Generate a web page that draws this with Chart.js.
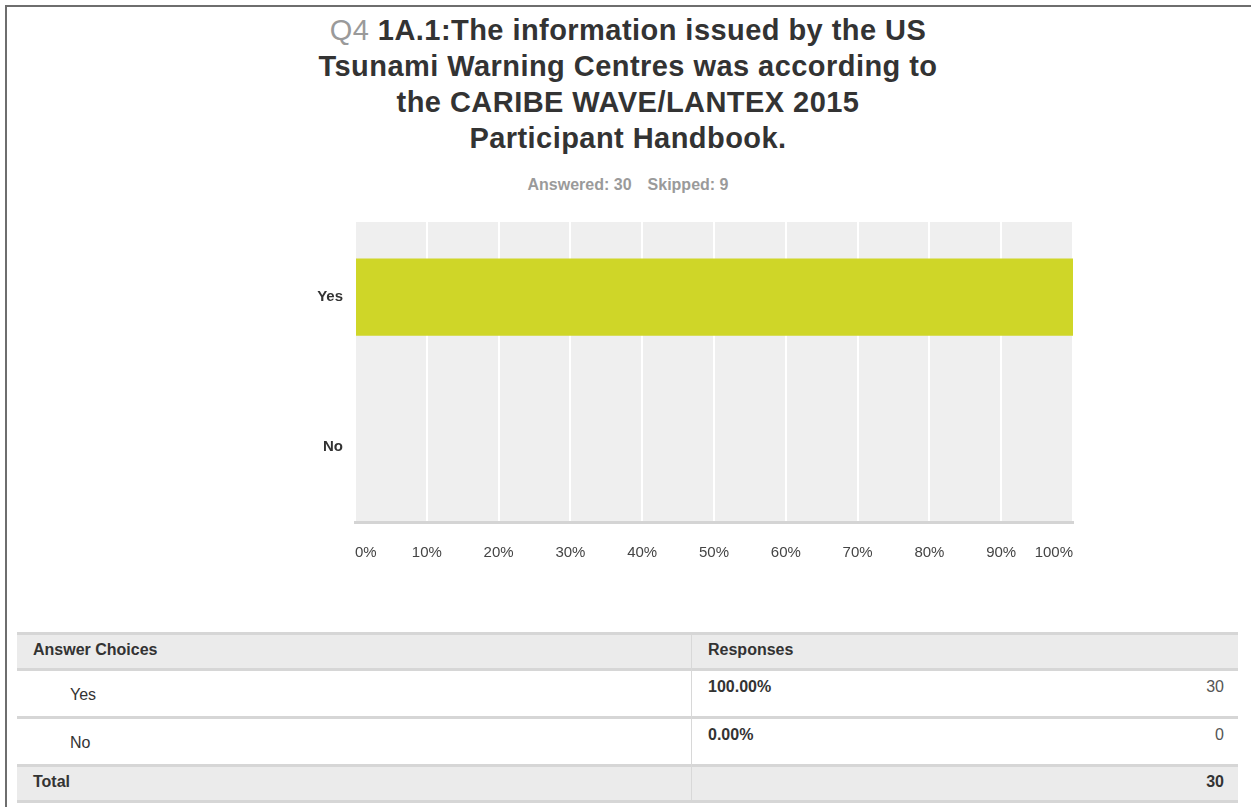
<!DOCTYPE html>
<html>
<head>
<meta charset="utf-8">
<script src="https://cdn.jsdelivr.net/npm/chart.js@4/dist/chart.umd.min.js"></script>
<style>
  html,body{margin:0;padding:0;background:#fff;}
  body{width:1251px;height:807px;position:relative;overflow:hidden;font-family:"Liberation Sans",Arial,Helvetica,sans-serif;color:#333;}
  #frame{position:absolute;left:5px;top:5px;right:0;bottom:0;border-top:2px solid #6e6e6e;border-left:2px solid #6e6e6e;}
  #title{position:absolute;left:228px;width:800px;top:12px;text-align:center;font-size:29px;line-height:36px;font-weight:bold;color:#333;letter-spacing:0.45px;}
  #title .q{color:#9a9a9a;font-weight:normal;}
  #stats{position:absolute;left:428px;width:400px;top:176px;text-align:center;font-size:16px;font-weight:bold;color:#9a9a9a;}
  #stats span{margin:0 8px;}
  #chartWrap{position:absolute;left:260px;top:200px;width:840px;height:380px;}
  .abs{position:absolute;}
  .band{position:absolute;left:17px;width:1221px;}
  .sep{position:absolute;left:17px;width:1221px;height:3px;background:#d6d6d6;}
  .txt{position:absolute;font-size:16px;line-height:18px;white-space:nowrap;color:#333;}
  .b{font-weight:bold;}
</style>
</head>
<body>
<div id="frame"></div>
<div id="title"><span class="q">Q4</span> 1A.1:The information issued by the US<br>Tsunami Warning Centres was according to<br>the CARIBE WAVE/LANTEX 2015<br>Participant Handbook.</div>
<div id="stats"></div>
<div id="chartWrap"><canvas id="c" width="840" height="380"></canvas></div>
<div id="table"></div>
<script>
const categories = ['Yes', 'No'];
const percentages = [100, 0];
const counts = [30, 0];
const totalCount = 30;
const answered = 30;
const skipped = 9;

document.getElementById('stats').innerHTML =
  '<span>Answered: ' + answered + '</span><span>Skipped: ' + skipped + '</span>';

const bgPlugin = {
  id: 'areaBg',
  beforeDraw(chart) {
    const {ctx, chartArea: a} = chart;
    ctx.save();
    ctx.fillStyle = '#efefef';
    ctx.fillRect(a.left, a.top, a.right - a.left, a.bottom - a.top);
    ctx.restore();
  }
};

new Chart(document.getElementById('c'), {
  type: 'bar',
  data: {
    labels: categories,
    datasets: [{
      data: percentages,
      backgroundColor: '#cfd628',
      borderWidth: 0,
      barPercentage: 1,
      categoryPercentage: 0.515
    }]
  },
  plugins: [bgPlugin],
  options: {
    indexAxis: 'y',
    responsive: false,
    animation: false,
    layout: {padding: {left: 0, right: 27, top: 22, bottom: 0}},
    plugins: {legend: {display: false}, tooltip: {enabled: false}},
    scales: {
      x: {
        min: 0, max: 100,
        grid: {color: '#ffffff', lineWidth: 2, drawTicks: false},
        border: {display: true, color: '#d4d4d4', width: 3},
        ticks: {
          stepSize: 10,
          padding: 22,
          align: 'inner',
          color: '#444',
          font: {family: '"Liberation Sans", Arial, sans-serif', size: 15},
          callback: v => v + '%'
        },
        afterFit: s => { s.height = 58; }
      },
      y: {
        grid: {display: false, drawTicks: false},
        border: {display: false},
        ticks: {
          padding: 12,
          color: '#333',
          font: {family: '"Liberation Sans", Arial, sans-serif', size: 15, weight: 'bold'}
        },
        afterFit: s => { s.width = 95; }
      }
    }
  }
});

// Table
const t = document.getElementById('table');
function add(cls, style, text) {
  const d = document.createElement('div');
  d.className = cls;
  Object.assign(d.style, style);
  if (text !== undefined) d.textContent = text;
  t.appendChild(d);
  return d;
}
add('sep', {top: '632px'});
add('band', {top: '635px', height: '33px', background: '#ebebeb'});
add('sep', {top: '668px'});
add('txt b', {left: '33px', top: '641px'}, 'Answer Choices');
add('txt b', {left: '708px', top: '641px'}, 'Responses');
const rowTops = [671, 719];
const rowH = 45;
categories.forEach((c, i) => {
  const top = rowTops[i];
  add('txt', {left: '70px', top: (top + 15) + 'px'}, c);
  add('txt b', {left: '708px', top: (top + 7) + 'px'}, percentages[i].toFixed(2) + '%');
  add('txt', {right: (1251 - 1224) + 'px', top: (top + 7) + 'px', color: '#555', textAlign: 'right'}, String(counts[i]));
  add('sep', {top: (top + rowH) + 'px'});
});
add('band', {top: '767px', height: '33px', background: '#ebebeb'});
add('sep', {top: '800px'});
add('txt b', {left: '33px', top: '773px'}, 'Total');
add('txt b', {right: (1251 - 1224) + 'px', top: '773px', textAlign: 'right'}, String(totalCount));
add('abs', {left: '691px', top: '635px', width: '1px', height: '165px', background: '#d8d8d8'});
</script>
</body>
</html>
